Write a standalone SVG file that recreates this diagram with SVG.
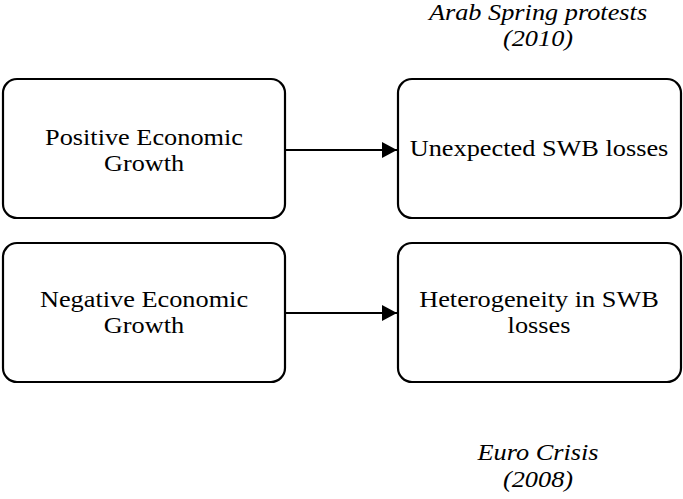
<svg xmlns="http://www.w3.org/2000/svg" width="683" height="499" viewBox="0 0 683 499">
<style>
.box{fill:#fff;stroke:#000;stroke-width:2.2}
.t{font-family:'Liberation Serif','Times New Roman',serif;font-size:22.5px;fill:#000;text-anchor:middle}
.i{font-style:italic}
.c{stroke:#000;stroke-width:2.2;fill:none}
</style>
<defs>
<marker id="ah" markerUnits="userSpaceOnUse" markerWidth="16" markerHeight="16" refX="15" refY="8" orient="auto">
<path d="M0,0 L15,8 L0,16 Z" fill="#000"/>
</marker>
</defs>
<rect width="683" height="499" fill="#fff"/>
<g id="label-arab">
<g transform="matrix(1.17 0 0 1 538 0)">
<text class="t i" x="0" y="20">Arab Spring protests</text>
<text class="t i" x="0" y="46">(2010)</text>
</g>
</g>
<g id="node-pos">
<rect class="box" x="3" y="79" width="282" height="139" rx="14"/>
<text class="t" x="144" y="145" textLength="198" lengthAdjust="spacingAndGlyphs">Positive Economic</text>
<text class="t" x="144" y="171" textLength="80" lengthAdjust="spacingAndGlyphs">Growth</text>
</g>
<g id="node-unexp">
<rect class="box" x="398" y="79" width="283" height="139" rx="14"/>
<g transform="matrix(1.17 0 0 1 539 0)">
<text class="t" x="0" y="156">Unexpected SWB losses</text>
</g>
</g>
<g id="node-neg">
<rect class="box" x="3" y="243" width="282" height="139" rx="14"/>
<g transform="matrix(1.17 0 0 1 144 0)">
<text class="t" x="0" y="307">Negative Economic</text>
<text class="t" x="0" y="333">Growth</text>
</g>
</g>
<g id="node-het">
<rect class="box" x="398" y="243" width="283" height="139" rx="14"/>
<g transform="matrix(1.17 0 0 1 539 0)">
<text class="t" x="0" y="307">Heterogeneity in SWB</text>
<text class="t" x="0" y="333">losses</text>
</g>
</g>
<g id="label-euro">
<g transform="matrix(1.17 0 0 1 538 0)">
<text class="t i" x="0" y="460">Euro Crisis</text>
<text class="t i" x="0" y="487">(2008)</text>
</g>
</g>
<g id="connectors">
<line class="c" x1="285" y1="150" x2="397" y2="150" marker-end="url(#ah)"/>
<line class="c" x1="285" y1="313" x2="397" y2="313" marker-end="url(#ah)"/>
</g>
</svg>
